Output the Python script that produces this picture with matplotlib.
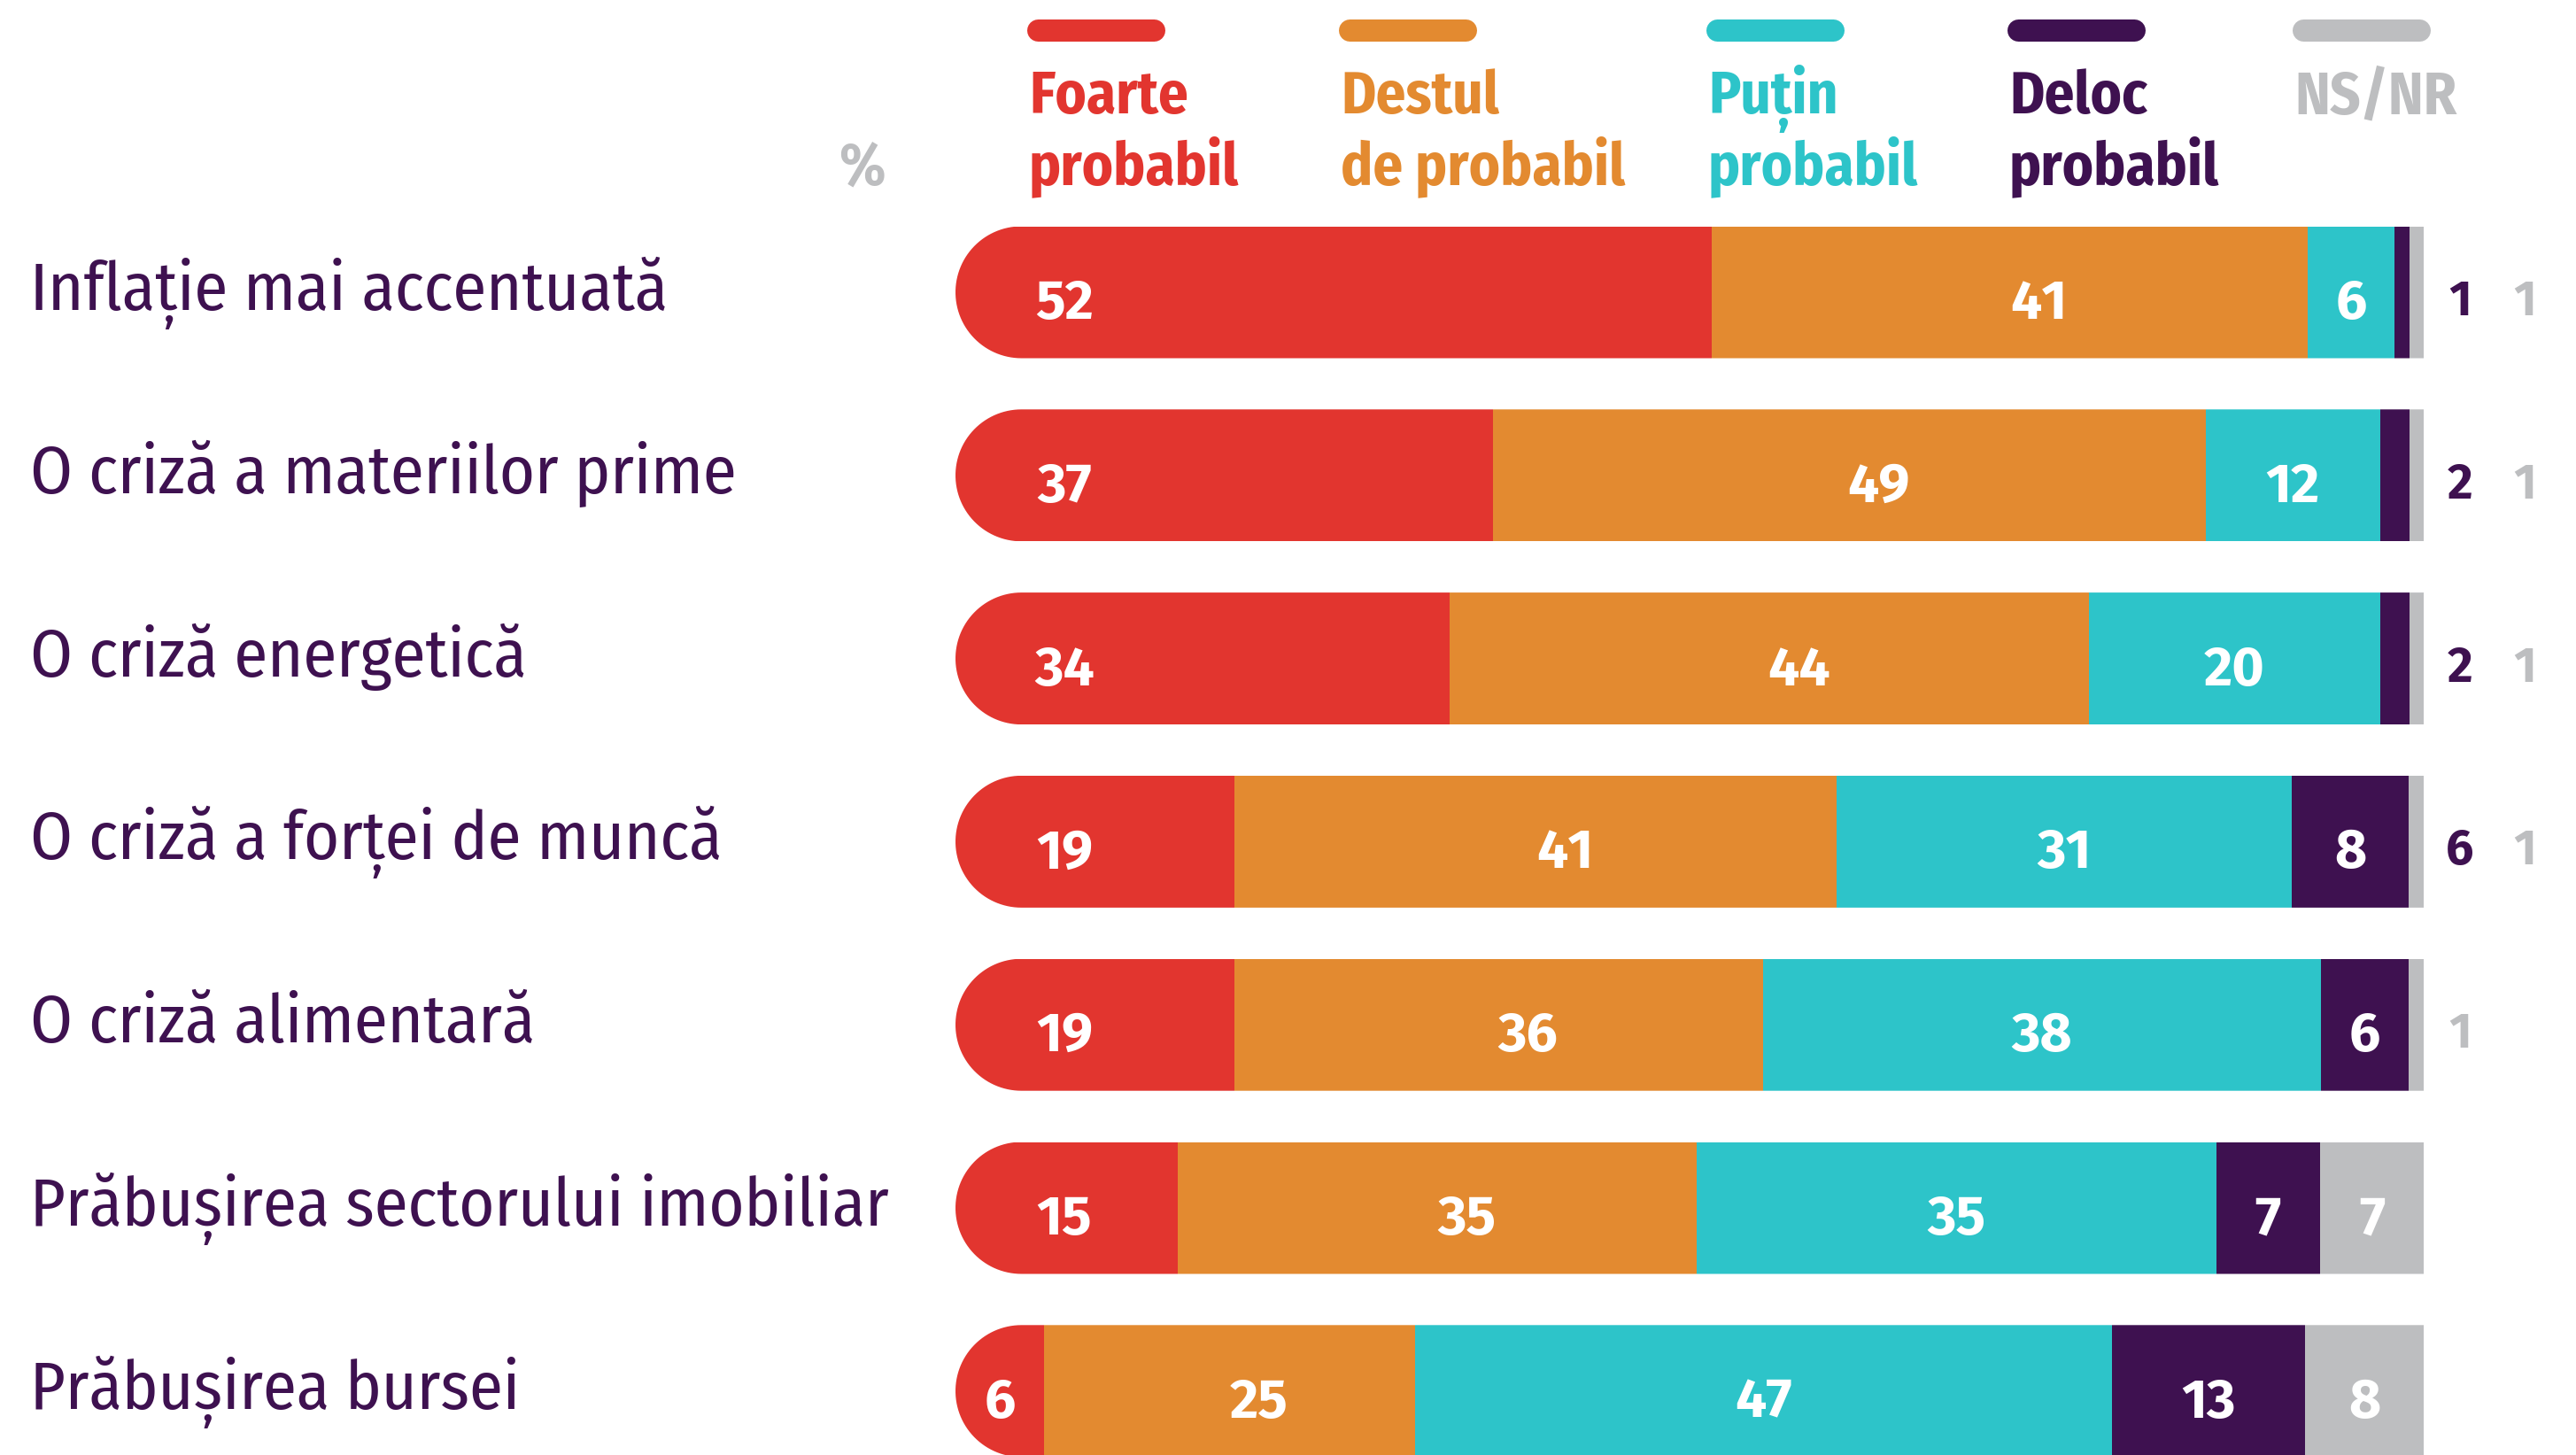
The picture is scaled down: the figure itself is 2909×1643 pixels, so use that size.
import numpy as np
import matplotlib
matplotlib.use("Agg")
import matplotlib.pyplot as plt
from matplotlib.path import Path
from matplotlib.patches import PathPatch

# data (percent)
categories = [
    "Inflație mai accentuată",
    "O criză a materiilor prime",
    "O criză energetică",
    "O criză a forței de muncă",
    "O criză alimentară",
    "Prăbușirea sectorului imobiliar",
    "Prăbușirea bursei",
]
series = ["Foarte\nprobabil", "Destul\nde probabil", "Puțin\nprobabil", "Deloc\nprobabil", "NS/NR"]
foarte = [52, 37, 34, 19, 19, 15, 6]
destul = [41, 49, 44, 41, 36, 35, 25]
putin = [6, 12, 20, 31, 38, 35, 47]
deloc = [1, 2, 2, 8, 6, 7, 13]
nsnr = [1, 1, 1, 1, 1, 7, 8]
# labels printed to the right of the bars (as in the source)
outside_deloc = ["1", "2", "2", "6", "", "", ""]
outside_nsnr = ["1", "1", "1", "1", "1", "", ""]

colors = ["#E2352F", "#E38A30", "#2DC4C9", "#3E1150", "#BDBEC0"]
purple = "#3E1150"
grey = "#BDBEC0"

COND = ["Fira Sans Condensed", "Fira Sans", "DejaVu Sans"]
FIRA = ["Fira Sans", "DejaVu Sans"]

W, H = 2909, 1643
fig = plt.figure(figsize=(W / 100, H / 100), dpi=100)
ax = fig.add_axes([0, 0, 1, 1])

# pixel layout -> data coordinates
x0_px, x100_px = 1079, 2737
ppu = (x100_px - x0_px) / 100.0
y0_px, step_px = 330, 206.8


def px2x(px):
    return (px - x0_px) / ppu


def py2y(py):
    return (py - y0_px) / step_px


ax.set_xlim(px2x(0), px2x(W))
ax.set_ylim(py2y(H), py2y(0))
ax.axis("off")

values = np.array([foarte, destul, putin, deloc, nsnr], dtype=float)
# rounded values don't always add to 100: stretch every row to full width
shares = values / values.sum(axis=0) * 100
rows = np.arange(len(categories))
bar_h = 149 / step_px
rx = (bar_h / 2) * step_px / ppu
label_shift = [0, 2.0, 0, 0, 0]

left = np.zeros(len(categories))
patches = []
for k in range(len(series)):
    bars = ax.barh(rows, shares[k], left=left, height=bar_h, color=colors[k], linewidth=0)
    patches.append(bars)
    for i in rows:
        w = shares[k][i]
        if values[k][i] >= 6:
            if k == 0:
                cx = min(px2x(1202), left[i] + w / 2)
            else:
                cx = left[i] + w / 2 + label_shift[k]
            ax.text(cx, i + 30 / step_px, str(int(values[k][i])), color="white",
                    fontsize=45, fontweight="bold", family=FIRA, ha="center", va="baseline")
    left += shares[k]

# rounded left end of each bar
t = np.linspace(np.pi / 2, 3 * np.pi / 2, 60)
for i in rows:
    xs = list(rx + rx * np.cos(t)) + [101, 101]
    ys = list(i + bar_h / 2 * np.sin(t)) + [i - bar_h / 2, i + bar_h / 2]
    clip = PathPatch(Path(np.column_stack([xs, ys])), transform=ax.transData)
    for bars in patches:
        bars[i].set_clip_path(clip)

# labels right of the bars
slots = [px2x(2778), px2x(2851)]
for i in rows:
    n = 0
    for txt, col in ((outside_deloc[i], purple), (outside_nsnr[i], grey)):
        if txt:
            ax.text(slots[n], i + 26 / step_px, txt, color=col, fontsize=40,
                    fontweight="bold", family=FIRA, ha="center", va="baseline")
            n += 1

# category labels
for i, c in enumerate(categories):
    ax.text(px2x(34), i + 20 / step_px, c, color=purple, fontsize=55,
            family=COND, ha="left", va="baseline")

# legend
leg_x = [1160, 1512, 1927, 2267, 2589]
for k, name in enumerate(series):
    xa, xb = px2x(leg_x[k] + 12), px2x(leg_x[k] + 155 - 12)
    ax.plot([xa, xb], [py2y(33.5)] * 2, color=colors[k], linewidth=18,
            solid_capstyle="round")
    for j, line in enumerate(name.split("\n")):
        ax.text(px2x(leg_x[k] + 2), py2y(128 + 80 * j), line, color=colors[k],
                fontsize=48, fontweight="bold", family=COND, ha="left", va="baseline")

ax.text(px2x(1000), py2y(210), "%", color=grey, fontsize=48, fontweight="bold",
        family=COND, ha="right", va="baseline")

fig.savefig("out.png", dpi=100)
